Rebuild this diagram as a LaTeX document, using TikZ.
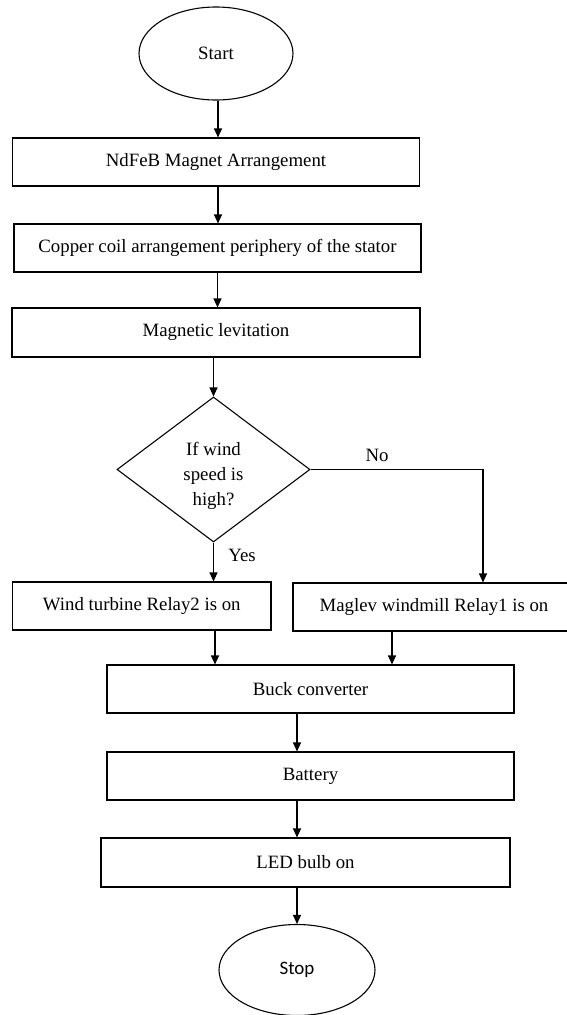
\documentclass[tikz,border=0pt]{standalone}
\usepackage{fontspec}
\setmainfont{Liberation Serif}
\newfontfamily\calib{Carlito}
\usetikzlibrary{shapes.geometric,arrows.meta}
\begin{document}
\begin{tikzpicture}[x=1pt,y=-1pt,
  every node/.style={font=\fontsize{18.8}{25}\selectfont, inner sep=0pt},
  box/.style={draw, line width=1.1pt, rectangle, minimum height=48pt},
  term/.style={draw, line width=1.1pt, ellipse},
  dec/.style={draw, line width=1.1pt, diamond, minimum width=193pt, minimum height=145pt},
  arr/.style={line width=1.1pt, -{Triangle[length=9pt,width=8pt]}},
  ln/.style={line width=1.1pt}]
\useasboundingbox (0,0) rectangle (566,1015);
\node[term, minimum width=154pt, minimum height=93pt] (start) at (216,53.5) {Start};
\node[box, minimum width=407pt] (n1) at (216,162) {NdFeB Magnet Arrangement};
\node[box, minimum width=407pt] (n2) at (217.5,248) {Copper coil arrangement periphery of the stator};
\node[box, minimum width=408pt, minimum height=49pt] (n3) at (216,332.5) {Magnetic levitation};
\node[dec] (d) at (213.5,469.5) {};
\node[align=center] (dt) at (213.5,476) {If wind\\speed is\\high?};
\node[box, minimum width=258.4pt] (n4) at (141.8,606) {Wind turbine Relay2 is on};
\node[box, minimum width=282pt] (n5) at (434,607) {Maglev windmill Relay1 is on};
\node[box, minimum width=407pt] (n6) at (310.5,689) {Buck converter};
\node[box, minimum width=407pt] (n7) at (310.5,776) {Battery};
\node[box, minimum width=409pt, minimum height=49pt] (n8) at (305.5,862.5) {LED bulb on};
\node[term, minimum width=156pt, minimum height=91pt, font=\calib\fontsize{19}{22}\selectfont] (stop) at (297,970) {Stop};
\node (no) at (377,455) {No};
\node (yes) at (242,555) {Yes};
\coordinate (xa) at (218,0);
\coordinate (xb) at (483,0);
\coordinate (xc) at (392,0);
\coordinate (xd) at (215,0);
\draw[arr] (xa |- start.south) -- (xa |- n1.north);
\draw[arr] (xa |- n1.south) -- (xa |- n2.north);
\draw[arr] (n2.south) -- (n2.south |- n3.north);
\draw[arr] (d.north |- n3.south) -- (d.north);
\draw[arr] (d.south) -- (d.south |- n4.north);
\draw[arr] (d.east) -| (xb |- n5.north);
\draw[arr] (xd |- n4.south) -- (xd |- n6.north);
\draw[arr] (xc |- n5.south) -- (xc |- n6.north);
\draw[arr] (stop.north |- n6.south) -- (stop.north |- n7.north);
\draw[arr] (stop.north |- n7.south) -- (stop.north |- n8.north);
\draw[arr] (stop.north |- n8.south) -- (stop.north);
\end{tikzpicture}
\end{document}
